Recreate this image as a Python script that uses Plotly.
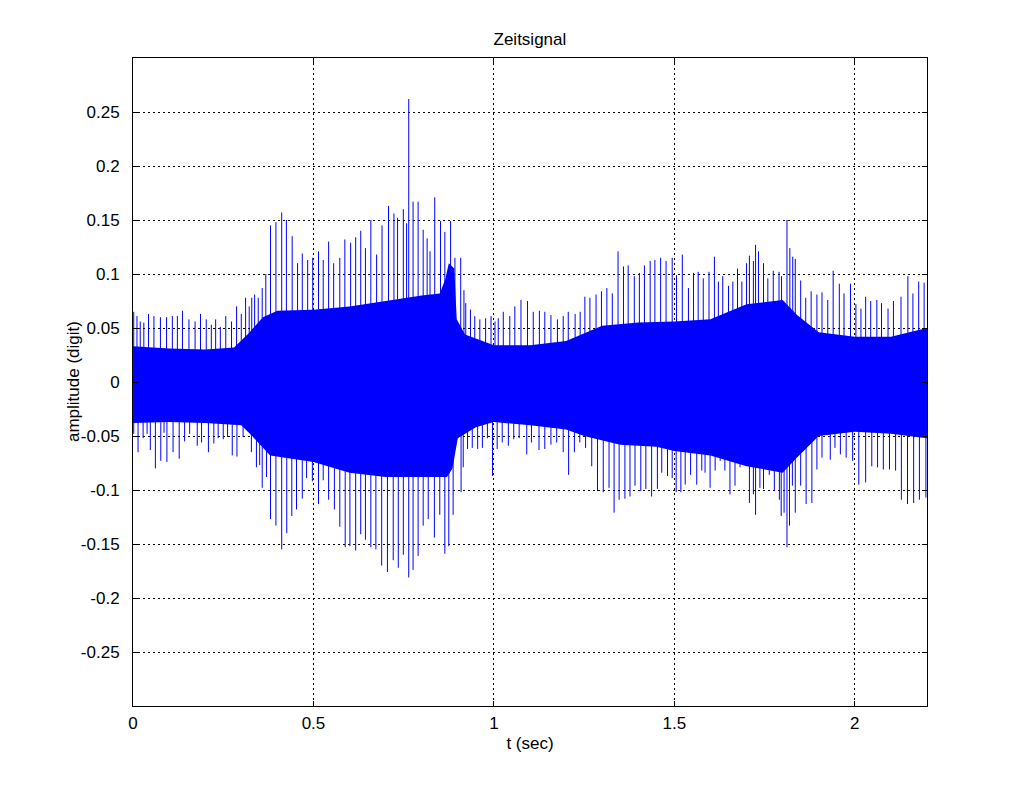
import plotly.graph_objects as go

# ---- data ----
# dense core of the signal: upper / lower envelope
core_t = [0.0, 0.1, 0.2, 0.28, 0.32, 0.36, 0.40, 0.50, 0.60, 0.70, 0.75, 0.80, 0.85, 0.865, 0.875, 0.89, 0.897,
          0.92, 1.0, 1.1, 1.2, 1.3, 1.4, 1.5, 1.6, 1.7, 1.8, 1.84, 1.9, 2.0, 2.1, 2.2]
core_hi = [0.033, 0.031, 0.030, 0.032, 0.045, 0.060, 0.066, 0.067, 0.070, 0.075, 0.078, 0.080, 0.082, 0.095, 0.110, 0.105, 0.058,
           0.044, 0.034, 0.034, 0.038, 0.052, 0.055, 0.056, 0.058, 0.072, 0.076, 0.062, 0.046, 0.042, 0.042, 0.050]
core_t_lo = [0.0, 0.1, 0.2, 0.30, 0.33, 0.38, 0.50, 0.60, 0.70, 0.80, 0.87, 0.885, 0.90, 0.95, 1.0, 1.1,
             1.2, 1.25, 1.35, 1.45, 1.5, 1.6, 1.7, 1.8, 1.84, 1.9, 2.0, 2.1, 2.2]
core_lo = [-0.038, -0.037, -0.038, -0.040, -0.050, -0.068, -0.074, -0.084, -0.088, -0.088, -0.088, -0.080, -0.052, -0.042, -0.037, -0.040,
           -0.044, -0.050, -0.058, -0.060, -0.064, -0.068, -0.078, -0.084, -0.070, -0.050, -0.046, -0.048, -0.052]

# positive peaks (time in s, amplitude)
peak_t = [0.002, 0.011, 0.020, 0.030, 0.043, 0.058, 0.076, 0.093, 0.109, 0.123, 0.137, 0.155, 0.172, 0.187,
          0.203, 0.217, 0.229, 0.242, 0.257, 0.273, 0.287, 0.300, 0.312, 0.322, 0.329, 0.337, 0.347, 0.358,
          0.368, 0.381, 0.396, 0.412, 0.425, 0.441, 0.456, 0.469, 0.484, 0.498, 0.514, 0.527, 0.542, 0.556,
          0.573, 0.587, 0.603, 0.617, 0.631, 0.644, 0.659, 0.675, 0.690, 0.708, 0.723, 0.733,
          0.749, 0.758, 0.764, 0.776, 0.790, 0.804, 0.815, 0.823, 0.836, 0.852, 0.864, 0.880, 0.892, 0.908,
          0.917, 0.922, 0.935, 0.947, 0.961, 0.977, 0.992, 1.003, 1.012, 1.026, 1.044, 1.058, 1.075, 1.093,
          1.109, 1.126, 1.141, 1.158, 1.176, 1.192, 1.206, 1.225, 1.239, 1.252, 1.266, 1.283, 1.298, 1.313,
          1.328, 1.344, 1.359, 1.372, 1.389, 1.403, 1.417, 1.433, 1.446, 1.462,
          1.477, 1.494, 1.506, 1.522, 1.539, 1.553, 1.566, 1.580, 1.596, 1.611, 1.622, 1.634, 1.650, 1.662,
          1.675, 1.687, 1.700, 1.708, 1.719, 1.725, 1.733, 1.747, 1.759, 1.774, 1.790, 1.797, 1.812, 1.820,
          1.828, 1.835, 1.850, 1.864, 1.879, 1.895, 1.909, 1.925, 1.940, 1.957, 1.970, 1.988, 2.003, 2.017,
          2.030, 2.044, 2.061, 2.074, 2.092, 2.107, 2.128, 2.147, 2.161, 2.177, 2.192]
peak_v = [0.065, 0.061, 0.056, 0.055, 0.063, 0.061, 0.060, 0.060, 0.061, 0.061, 0.066, 0.058, 0.056, 0.063,
          0.058, 0.053, 0.058, 0.051, 0.061, 0.056, 0.070, 0.063, 0.078, 0.070, 0.078, 0.081, 0.078, 0.087,
          0.100, 0.145, 0.148, 0.157, 0.150, 0.135, 0.110, 0.119, 0.113, 0.115, 0.121, 0.113, 0.130, 0.110,
          0.115, 0.132, 0.129, 0.134, 0.140, 0.124, 0.150, 0.118, 0.145, 0.163, 0.156, 0.152,
          0.160, 0.147, 0.262, 0.167, 0.167, 0.141, 0.133, 0.121, 0.171, 0.149, 0.139, 0.149, 0.115, 0.115,
          0.085, 0.073, 0.067, 0.061, 0.058, 0.059, 0.061, 0.056, 0.059, 0.065, 0.061, 0.070, 0.076, 0.075,
          0.065, 0.066, 0.065, 0.062, 0.058, 0.061, 0.065, 0.063, 0.065, 0.079, 0.078, 0.081, 0.084, 0.087,
          0.082, 0.121, 0.107, 0.108, 0.098, 0.101, 0.108, 0.112, 0.113, 0.115,
          0.112, 0.115, 0.099, 0.118, 0.087, 0.101, 0.102, 0.096, 0.102, 0.116, 0.093, 0.098, 0.089, 0.093,
          0.105, 0.093, 0.110, 0.117, 0.112, 0.127, 0.121, 0.110, 0.096, 0.103, 0.102, 0.098, 0.150, 0.124,
          0.116, 0.114, 0.094, 0.078, 0.084, 0.081, 0.083, 0.076, 0.103, 0.091, 0.082, 0.091, 0.072, 0.068,
          0.079, 0.075, 0.076, 0.073, 0.068, 0.075, 0.079, 0.098, 0.082, 0.093, 0.092]

# negative peaks (time in s, amplitude)
trough_t = [0.002, 0.014, 0.028, 0.039, 0.048, 0.062, 0.077, 0.086, 0.094, 0.111, 0.128, 0.143, 0.157, 0.178,
            0.190, 0.209, 0.224, 0.236, 0.250, 0.262, 0.275, 0.288, 0.305, 0.328, 0.342, 0.351, 0.358, 0.370,
            0.381, 0.396, 0.412, 0.426, 0.440, 0.453, 0.469, 0.481, 0.497, 0.514, 0.527, 0.542, 0.558, 0.573,
            0.588, 0.601, 0.617, 0.631, 0.644, 0.659, 0.673, 0.689, 0.705, 0.721, 0.735,
            0.749, 0.764, 0.776, 0.790, 0.804, 0.818, 0.835, 0.850, 0.864, 0.875, 0.887, 0.909, 0.915, 0.927,
            0.940, 0.955, 0.968, 0.982, 0.996, 1.009, 1.023, 1.040, 1.055, 1.070, 1.091, 1.104, 1.125, 1.141,
            1.158, 1.174, 1.192, 1.207, 1.223, 1.238, 1.254, 1.271, 1.287, 1.303, 1.319, 1.333, 1.347, 1.363,
            1.377, 1.391, 1.407, 1.421, 1.437, 1.453, 1.465,
            1.481, 1.494, 1.505, 1.518, 1.530, 1.545, 1.562, 1.576, 1.585, 1.599, 1.613, 1.627, 1.640, 1.654,
            1.668, 1.682, 1.691, 1.708, 1.719, 1.725, 1.737, 1.747, 1.763, 1.777, 1.791, 1.796, 1.804, 1.812,
            1.819, 1.827, 1.835, 1.850, 1.865, 1.881, 1.895, 1.909, 1.932, 1.945, 1.960, 1.976, 1.994, 2.011,
            2.030, 2.047, 2.063, 2.079, 2.096, 2.113, 2.129, 2.146, 2.163, 2.179, 2.197]
trough_v = [-0.048, -0.065, -0.052, -0.048, -0.063, -0.080, -0.073, -0.047, -0.074, -0.065, -0.071, -0.055, -0.048, -0.059,
            -0.056, -0.065, -0.057, -0.052, -0.053, -0.051, -0.068, -0.069, -0.051, -0.065, -0.079, -0.077, -0.098, -0.088,
            -0.127, -0.133, -0.155, -0.140, -0.124, -0.118, -0.108, -0.089, -0.092, -0.113, -0.091, -0.109, -0.118, -0.134,
            -0.153, -0.152, -0.156, -0.141, -0.146, -0.153, -0.155, -0.170, -0.176, -0.165, -0.172,
            -0.160, -0.181, -0.174, -0.161, -0.133, -0.127, -0.144, -0.123, -0.159, -0.152, -0.123, -0.102, -0.079, -0.062,
            -0.061, -0.062, -0.061, -0.052, -0.087, -0.062, -0.056, -0.059, -0.053, -0.052, -0.067, -0.056, -0.063, -0.062,
            -0.058, -0.056, -0.065, -0.086, -0.065, -0.056, -0.061, -0.078, -0.101, -0.102, -0.098, -0.121, -0.109, -0.108,
            -0.106, -0.096, -0.101, -0.099, -0.106, -0.099, -0.084,
            -0.087, -0.089, -0.102, -0.102, -0.095, -0.086, -0.095, -0.082, -0.084, -0.098, -0.082, -0.073, -0.082, -0.104,
            -0.096, -0.079, -0.075, -0.112, -0.104, -0.123, -0.098, -0.099, -0.086, -0.101, -0.109, -0.124, -0.121, -0.153,
            -0.133, -0.096, -0.121, -0.096, -0.113, -0.112, -0.081, -0.070, -0.072, -0.061, -0.067, -0.070, -0.073, -0.095,
            -0.093, -0.078, -0.079, -0.081, -0.081, -0.082, -0.109, -0.113, -0.112, -0.109, -0.107]

x_ticks = [0, 0.5, 1, 1.5, 2]
x_ticklabels = ["0", "0.5", "1", "1.5", "2"]
y_ticks = [-0.25, -0.2, -0.15, -0.1, -0.05, 0, 0.05, 0.1, 0.15, 0.2, 0.25]
y_ticklabels = ["-0.25", "-0.2", "-0.15", "-0.1", "-0.05", "0", "0.05", "0.1", "0.15", "0.2", "0.25"]

title_text = "Zeitsignal"
x_title = "t (sec)"
y_title = "amplitude (digit)"

BLUE = "#0000FF"
FONT = "Liberation Sans, Arial, Helvetica, sans-serif"
FS = 17

fig = go.Figure()

# dense core (filled between lower and upper envelope)
fig.add_trace(go.Scatter(x=core_t_lo, y=core_lo, mode="lines",
                         line=dict(width=0, color=BLUE), showlegend=False, hoverinfo="skip"))
fig.add_trace(go.Scatter(x=core_t, y=core_hi, mode="lines", fill="tonexty",
                         fillcolor=BLUE, line=dict(width=0, color=BLUE),
                         showlegend=False, hoverinfo="skip"))

# spikes as vertical strokes from zero to each peak
sx, sy = [], []
for t, v in zip(peak_t + trough_t, peak_v + trough_v):
    sx += [t, t, None]
    sy += [0, v, None]
fig.add_trace(go.Scatter(x=sx, y=sy, mode="lines", line=dict(width=1, color=BLUE),
                         showlegend=False, hoverinfo="skip", connectgaps=False))

axis_common = dict(
    showline=True, linecolor="black", linewidth=1, mirror="ticks",
    ticks="inside", ticklen=5, tickcolor="black",
    showgrid=True, gridcolor="black", gridwidth=1, griddash="2px,3px",
    zeroline=False,
    tickfont=dict(family=FONT, size=FS, color="black"),
)

fig.update_xaxes(range=[0, 2.2], tickvals=x_ticks, ticktext=x_ticklabels,
                 ticklabelstandoff=2,
                 title=dict(text=x_title, font=dict(family=FONT, size=FS, color="black"), standoff=4),
                 **axis_common)
fig.update_yaxes(range=[-0.3, 0.3], tickvals=y_ticks, ticktext=y_ticklabels,
                 ticklabelstandoff=9,
                 **axis_common)

fig.add_annotation(text=y_title, xref="paper", yref="paper", x=-0.0755, y=0.5,
                   xanchor="center", yanchor="middle", textangle=-90, showarrow=False,
                   font=dict(family=FONT, size=FS, color="black"))

fig.update_layout(
    width=1024, height=794,
    margin=dict(l=133, r=97, t=58, b=88),
    paper_bgcolor="white", plot_bgcolor="white",
    title=dict(text=title_text, x=0.5175, xanchor="center", y=0.951, yanchor="middle",
               font=dict(family=FONT, size=FS, color="black")),
    showlegend=False,
)

fig.write_html("out.html")
